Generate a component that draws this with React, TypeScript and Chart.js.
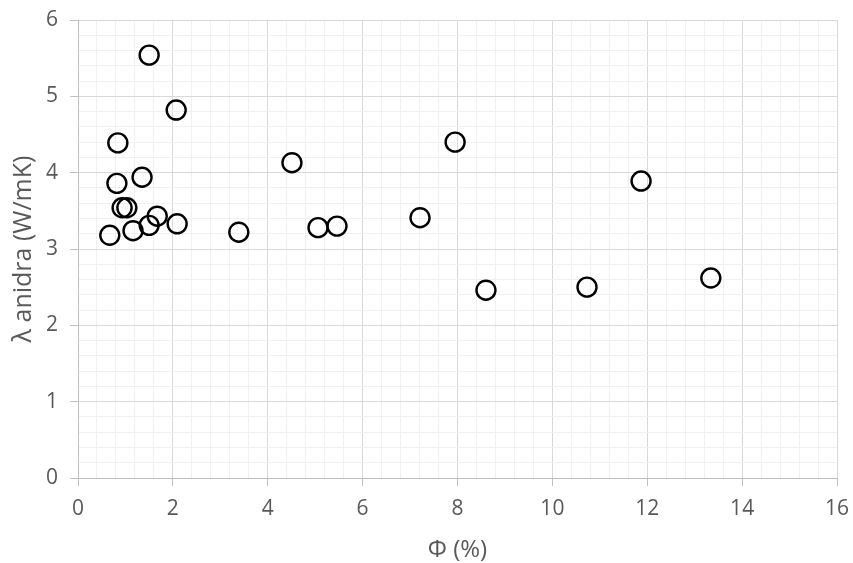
import { useEffect, useRef } from "react";
import { Chart, registerables } from "chart.js";

Chart.register(...registerables);

const phiPercent = [1.50, 2.07, 0.84, 7.95, 4.51, 0.82, 1.35, 11.87, 0.93, 1.03, 1.67, 7.21, 1.50, 2.09, 1.16, 0.67, 3.39, 5.06, 5.46, 8.60, 10.73, 13.34];
const lambdaAnidra = [5.54, 4.82, 4.39, 4.40, 4.13, 3.86, 3.94, 3.89, 3.54, 3.54, 3.43, 3.41, 3.31, 3.33, 3.24, 3.18, 3.22, 3.28, 3.30, 2.46, 2.50, 2.62];

const xMin = 0, xMax = 16, xMinorStep = 0.4, xMajorStep = 2;
const yMin = 0, yMax = 6, yMinorStep = 0.2, yMajorStep = 1;
const xTitle = "Φ (%)";
const yTitle = "λ anidra (W/mK)";

const TEXT = "#595959";
const FONT = "'Open Sans', sans-serif";

function makeTicks(min: number, max: number, step: number) {
  const n = Math.round((max - min) / step);
  const out: { value: number }[] = [];
  for (let i = 0; i <= n; i++) out.push({ value: Math.round((min + i * step) * 1000) / 1000 });
  return out;
}
const isMajor = (v: number, step: number) => Math.abs(v / step - Math.round(v / step)) < 1e-6;

export default function App() {
  const ref = useRef<HTMLCanvasElement>(null);
  useEffect(() => {
    if (!ref.current) return;
    const chart = new Chart(ref.current, {
      type: "scatter",
      data: {
        datasets: [
          {
            data: phiPercent.map((x, i) => ({ x, y: lambdaAnidra[i] })),
            pointRadius: 9.5,
            pointHoverRadius: 9.5,
            pointBorderWidth: 2.4,
            borderColor: "#000000",
            backgroundColor: "rgba(0,0,0,0)",
          },
        ],
      },
      options: {
        animation: false,
        responsive: false,
        maintainAspectRatio: false,
        layout: { padding: { left: 0, top: 20, right: 16, bottom: 0 } },
        plugins: { legend: { display: false }, tooltip: { enabled: false } },
        scales: {
          x: {
            type: "linear",
            min: xMin,
            max: xMax,
            afterBuildTicks: (s: any) => { s.ticks = makeTicks(xMin, xMax, xMinorStep); },
            afterFit: (s: any) => { s.height = 85; s.paddingLeft = 0; s.paddingRight = 0; },
            border: { color: "#bfbfbf", width: 1 },
            grid: {
              color: (c: any) => (isMajor(c.tick.value, xMajorStep) ? "#d9d9d9" : "#f0f0f0"),
              tickColor: (c: any) => (isMajor(c.tick.value, xMajorStep) ? "#bfbfbf" : "rgba(0,0,0,0)"),
              tickLength: 8,
              lineWidth: 1,
            },
            ticks: {
              autoSkip: false,
              maxRotation: 0,
              padding: 10,
              color: TEXT,
              font: { family: FONT, size: 21 },
              callback: (v: any) => (isMajor(Number(v), xMajorStep) ? String(Math.round(Number(v))) : ""),
            },
            title: {
              display: true,
              text: xTitle,
              color: TEXT,
              font: { family: FONT, size: 24 },
              padding: { top: 0, bottom: -2 },
            },
          },
          y: {
            type: "linear",
            min: yMin,
            max: yMax,
            afterBuildTicks: (s: any) => { s.ticks = makeTicks(yMin, yMax, yMinorStep); },
            afterFit: (s: any) => { s.width = 78; s.paddingTop = 0; s.paddingBottom = 0; },
            border: { color: "#bfbfbf", width: 1 },
            grid: {
              color: (c: any) => (isMajor(c.tick.value, yMajorStep) ? "#d9d9d9" : "#f0f0f0"),
              tickColor: (c: any) => (isMajor(c.tick.value, yMajorStep) ? "#bfbfbf" : "rgba(0,0,0,0)"),
              tickLength: 8,
              lineWidth: 1,
            },
            ticks: {
              autoSkip: false,
              padding: 12,
              color: TEXT,
              font: { family: FONT, size: 21 },
              callback: (v: any) => (isMajor(Number(v), yMajorStep) ? String(Math.round(Number(v))) : ""),
            },
            title: {
              display: true,
              text: yTitle,
              color: TEXT,
              font: { family: FONT, size: 25 },
              padding: { top: 9, bottom: 0 },
            },
          },
        },
      },
    });
    return () => chart.destroy();
  }, []);
  return (
    <div style={{ position: "fixed", left: 0, top: 0, width: 853, height: 563, background: "#ffffff" }}>
      <canvas ref={ref} width={853} height={563} style={{ width: 853, height: 563, display: "block" }} />
    </div>
  );
}
